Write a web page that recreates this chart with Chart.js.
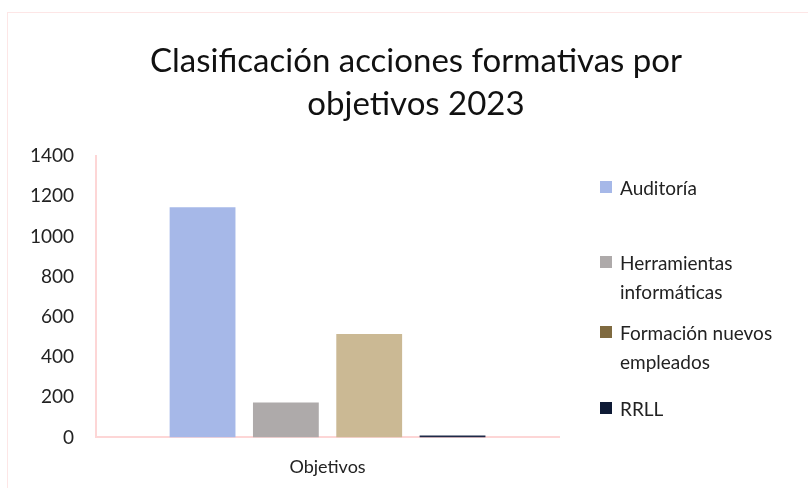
<!DOCTYPE html>
<html>
<head>
<meta charset="utf-8">
<script src="https://cdn.jsdelivr.net/npm/chart.js@4/dist/chart.umd.min.js"></script>
<style>
  body { margin: 0; background: #fff; overflow: hidden; }
  #wrap { position: relative; width: 808px; height: 488px; overflow: hidden; }
  #frame { position: absolute; left: 7px; top: 12px; width: 820px; height: 500px; border: 1px solid #fde6e6; }
  #title { position: absolute; left: 116px; width: 600px; top: 38px; text-align: center; font-family: Lato, 'Open Sans', sans-serif; font-size: 33px; line-height: 43px; color: #111; }
  #legend { position: absolute; left: 600px; top: 0; font-family: Lato, 'Open Sans', sans-serif; font-size: 19px; color: #222; }
  .item { position: absolute; left: 0; white-space: nowrap; line-height: 29px; }
  .item .box { position: absolute; left: 0; top: 8px; width: 12px; height: 12px; }
  .item span.t { display: block; padding-left: 20px; }
  canvas { position: absolute; left: 0; top: 0; }
</style>
</head>
<body>
<div id="wrap">
  <div id="frame"></div>
  <canvas id="myChart" width="808" height="505"></canvas>
  <div id="title">Clasificación acciones formativas por<br>objetivos 2023</div>
  <div id="legend"></div>
</div>
<script>
const categories = ['Objetivos'];
const seriesNames = ['Auditoría', 'Herramientas informáticas', 'Formación nuevos empleados', 'RRLL'];
const seriesValues = [[1145], [174], [515], [10]];
const yTicks = [0, 200, 400, 600, 800, 1000, 1200, 1400];
const barColors = ['#a6b8e8', '#aeaaaa', '#cbb994', '#1e2a48'];
const legendColors = ['#a6b8e8', '#aeaaaa', '#7f6a40', '#0e1a35'];
const legendLines = [['Auditoría'], ['Herramientas', 'informáticas'], ['Formación nuevos', 'empleados'], ['RRLL']];
const legendTops = [173, 248, 318, 394];

const ctx = document.getElementById('myChart');
const axisPink = '#fdd6d6';
const font = 'Lato, "Open Sans", sans-serif';

new Chart(ctx, {
    type: 'bar',
    data: {
        labels: categories,
        datasets: seriesNames.map((name, i) => ({
            label: name,
            data: seriesValues[i],
            backgroundColor: barColors[i],
            borderWidth: 0
        }))
    },
    options: {
        responsive: false,
        animation: false,
        layout: { padding: { left: 8, right: 249, top: 156, bottom: 8 } },
        datasets: { bar: { categoryPercentage: 0.72, barPercentage: 0.79 } },
        plugins: {
            legend: { display: false },
            tooltip: { enabled: false },
            title: { display: false }
        },
        scales: {
            x: {
                grid: { display: false, drawTicks: false },
                border: { color: axisPink, width: 2 },
                ticks: { color: '#222', padding: 19, font: { family: font, size: 18 } }
            },
            y: {
                min: yTicks[0],
                max: yTicks[yTicks.length - 1],
                afterBuildTicks: axis => { axis.ticks = yTicks.map(v => ({ value: v })); },
                grid: { display: false, drawTicks: false },
                border: { color: axisPink, width: 2 },
                ticks: { color: '#222', padding: 22, font: { family: font, size: 19 }, callback: v => String(v) }
            }
        }
    }
});

// legend drawn as html, colours differ from bars in the original
const legendEl = document.getElementById('legend');
seriesNames.forEach((name, i) => {
    const item = document.createElement('div');
    item.className = 'item';
    item.style.top = legendTops[i] + 'px';
    const box = document.createElement('div');
    box.className = 'box';
    box.style.background = legendColors[i];
    item.appendChild(box);
    legendLines[i].forEach(line => {
        const t = document.createElement('span');
        t.className = 't';
        t.textContent = line;
        item.appendChild(t);
    });
    legendEl.appendChild(item);
});
</script>
</body>
</html>
